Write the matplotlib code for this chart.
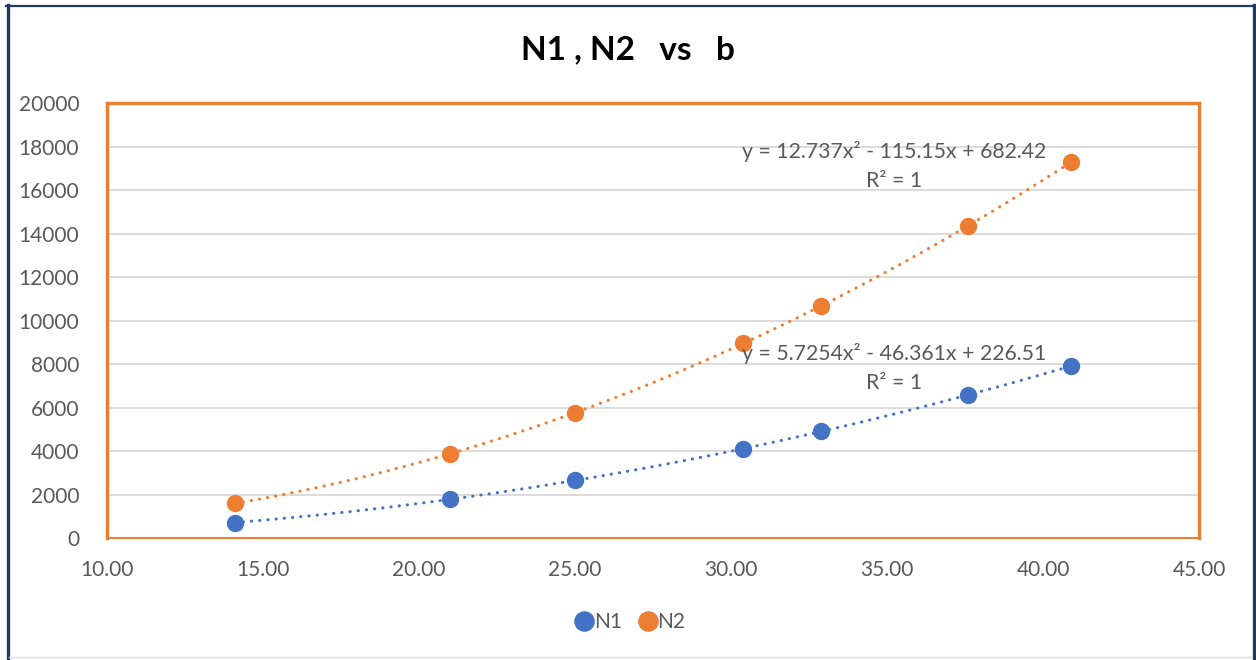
import matplotlib.pyplot as plt
import numpy as np
from matplotlib.lines import Line2D

# --- donnees ---
b_vals = [14.10, 21.00, 25.00, 30.40, 32.90, 37.60, 40.90]
n1_vals = [710, 1780, 2650, 4110, 4900, 6580, 7910]
n2_vals = [1590, 3880, 5760, 8950, 10680, 14360, 17280]

eq_n1 = "y = 5.7254x\u00b2 - 46.361x + 226.51\nR\u00b2 = 1"
eq_n2 = "y = 12.737x\u00b2 - 115.15x + 682.42\nR\u00b2 = 1"

x_ticks = [10, 15, 20, 25, 30, 35, 40, 45]
y_ticks = list(range(0, 20001, 2000))

BLEU = "#4472C4"
ORANGE = "#ED7D31"
GRIS = "#595959"

plt.rcParams['font.family'] = ['Lato', 'DejaVu Sans']

fig = plt.figure(figsize=(12.56, 6.6), dpi=100)
ax = fig.add_axes([0.0852, 0.1848, 0.8694, 0.6591])

# courbes de tendance (polynome ordre 2)
for vals, col in [(n1_vals, BLEU), (n2_vals, ORANGE)]:
    coef = np.polyfit(b_vals, vals, 2)
    xx = np.linspace(min(b_vals), max(b_vals), 200)
    ax.plot(xx, np.polyval(coef, xx), color=col, lw=2.2,
            linestyle=(0, (0.1, 2.6)), dash_capstyle='round', zorder=2)

ax.plot(b_vals, n1_vals, 'o', color=BLEU, ms=11.5, label="N1", zorder=3)
ax.plot(b_vals, n2_vals, 'o', color=ORANGE, ms=11.5, label="N2", zorder=3)

ax.text(35.22, 17100, eq_n2, ha='center', va='center', ma='center',
        fontsize=15.3, color=GRIS, linespacing=1.6, zorder=4)
ax.text(35.22, 7816, eq_n1, ha='center', va='center', ma='center',
        fontsize=15.3, color=GRIS, linespacing=1.6, zorder=4)

ax.set_xlim(10, 45)
ax.set_ylim(0, 20000)
ax.set_xticks(x_ticks)
ax.set_xticklabels([f"{v:.2f}" for v in x_ticks])
ax.set_yticks(y_ticks)
ax.tick_params(length=0, labelsize=15, labelcolor=GRIS)
ax.tick_params(axis='x', pad=16)
ax.tick_params(axis='y', pad=20)
ax.grid(axis='y', color="#D9D9D9", lw=1.3)
ax.set_axisbelow(True)
for side in ['left', 'top', 'right']:
    ax.spines[side].set_color(ORANGE)
    ax.spines[side].set_linewidth(2.4)
ax.spines['bottom'].set_color(ORANGE)
ax.spines['bottom'].set_linewidth(1.5)

fig.text(0.5, 1 - 50 / 660, "N1 , N2   vs   b", ha='center', va='center',
         fontsize=24, fontweight='bold', color='black')

fig.legend(loc='center', bbox_to_anchor=(0.5, 1 - 622 / 660), ncol=2,
           frameon=False, fontsize=15, labelcolor=GRIS, handletextpad=-0.2,
           columnspacing=0.6, handlelength=1.3, markerscale=1.2)

# cadre exterieur
W, H = 1256, 660
fig.add_artist(Line2D([7.5 / W, 7.5 / W], [0, 1 - 5 / H], color="#1F3864", lw=2.4))
fig.add_artist(Line2D([6 / W, 1253.5 / W], [1 - 6 / H, 1 - 6 / H], color="#1F3864", lw=1.6))
fig.add_artist(Line2D([1253.5 / W, 1253.5 / W], [0, 1 - 5 / H], color="#1F3864", lw=2.4))
fig.add_artist(Line2D([9 / W, 1252 / W], [3 / H, 3 / H], color="#E0E0E0", lw=1.0))

fig.savefig("out.png", dpi=100)
